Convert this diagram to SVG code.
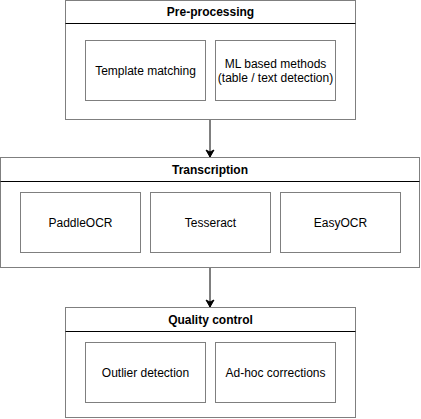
<svg xmlns="http://www.w3.org/2000/svg" width="421" height="419" viewBox="0 0 421 419">
<defs>
<style>
.bg{fill:#ffffff}
.c{fill:#ffffff;stroke:#7f7f7f;stroke-width:1}
.h{stroke:#000000;stroke-width:1}
.b{fill:#ffffff;stroke:#7f7f7f;stroke-width:1}
.t{font-family:"Liberation Sans",Arial,sans-serif;font-size:12px;fill:#000000;text-anchor:middle}
.tb{font-family:"Liberation Sans",Arial,sans-serif;font-size:12px;font-weight:bold;fill:#000000;text-anchor:middle}
.e{stroke:#000000;stroke-width:1;fill:none}
</style>
<marker id="arr" markerWidth="10" markerHeight="10" refX="8" refY="5" orient="auto" markerUnits="userSpaceOnUse">
<path d="M1,1 L8,5 L1,9 L3,5 Z" fill="#000000" stroke="#000000" stroke-width="1"/>
</marker>
</defs>
<rect class="bg" x="0" y="0" width="421" height="419"/>
<g id="connectors">
<line class="e" x1="210" y1="120" x2="210" y2="157" marker-end="url(#arr)"/>
<line class="e" x1="210" y1="268" x2="210" y2="307" marker-end="url(#arr)"/>
</g>
<g id="preprocessing">
<rect class="c" x="65.5" y="0.5" width="290" height="119"/>
<line class="h" x1="65.5" y1="23.5" x2="355.5" y2="23.5"/>
<text class="tb" x="210.5" y="16">Pre-processing</text>
</g>
<g id="template-matching">
<rect class="b" x="85.5" y="40.5" width="120" height="60"/>
<text class="t" x="145.5" y="74.5">Template matching</text>
</g>
<g id="ml-methods">
<rect class="b" x="215.5" y="40.5" width="120" height="60"/>
<text class="t" x="275.5" y="67.5">ML based methods</text>
<text class="t" x="275.5" y="81.5">(table / text detection)</text>
</g>
<g id="transcription">
<rect class="c" x="0.5" y="157.5" width="419" height="110"/>
<line class="h" x1="0.5" y1="181.5" x2="419.5" y2="181.5"/>
<text class="tb" x="210" y="173.5">Transcription</text>
</g>
<g id="paddleocr">
<rect class="b" x="20.5" y="192.5" width="120" height="60"/>
<text class="t" x="80.5" y="226.5">PaddleOCR</text>
</g>
<g id="tesseract">
<rect class="b" x="150.5" y="192.5" width="120" height="60"/>
<text class="t" x="210.5" y="226.5">Tesseract</text>
</g>
<g id="easyocr">
<rect class="b" x="280.5" y="192.5" width="120" height="60"/>
<text class="t" x="340.5" y="226.5">EasyOCR</text>
</g>
<g id="quality-control">
<rect class="c" x="65.5" y="307.5" width="290" height="110"/>
<line class="h" x1="65.5" y1="331.5" x2="355.5" y2="331.5"/>
<text class="tb" x="210.5" y="323.5">Quality control</text>
</g>
<g id="outlier-detection">
<rect class="b" x="85.5" y="342.5" width="120" height="60"/>
<text class="t" x="145.5" y="376.5">Outlier detection</text>
</g>
<g id="adhoc-corrections">
<rect class="b" x="215.5" y="342.5" width="120" height="60"/>
<text class="t" x="275.5" y="376.5">Ad-hoc corrections</text>
</g>
</svg>
